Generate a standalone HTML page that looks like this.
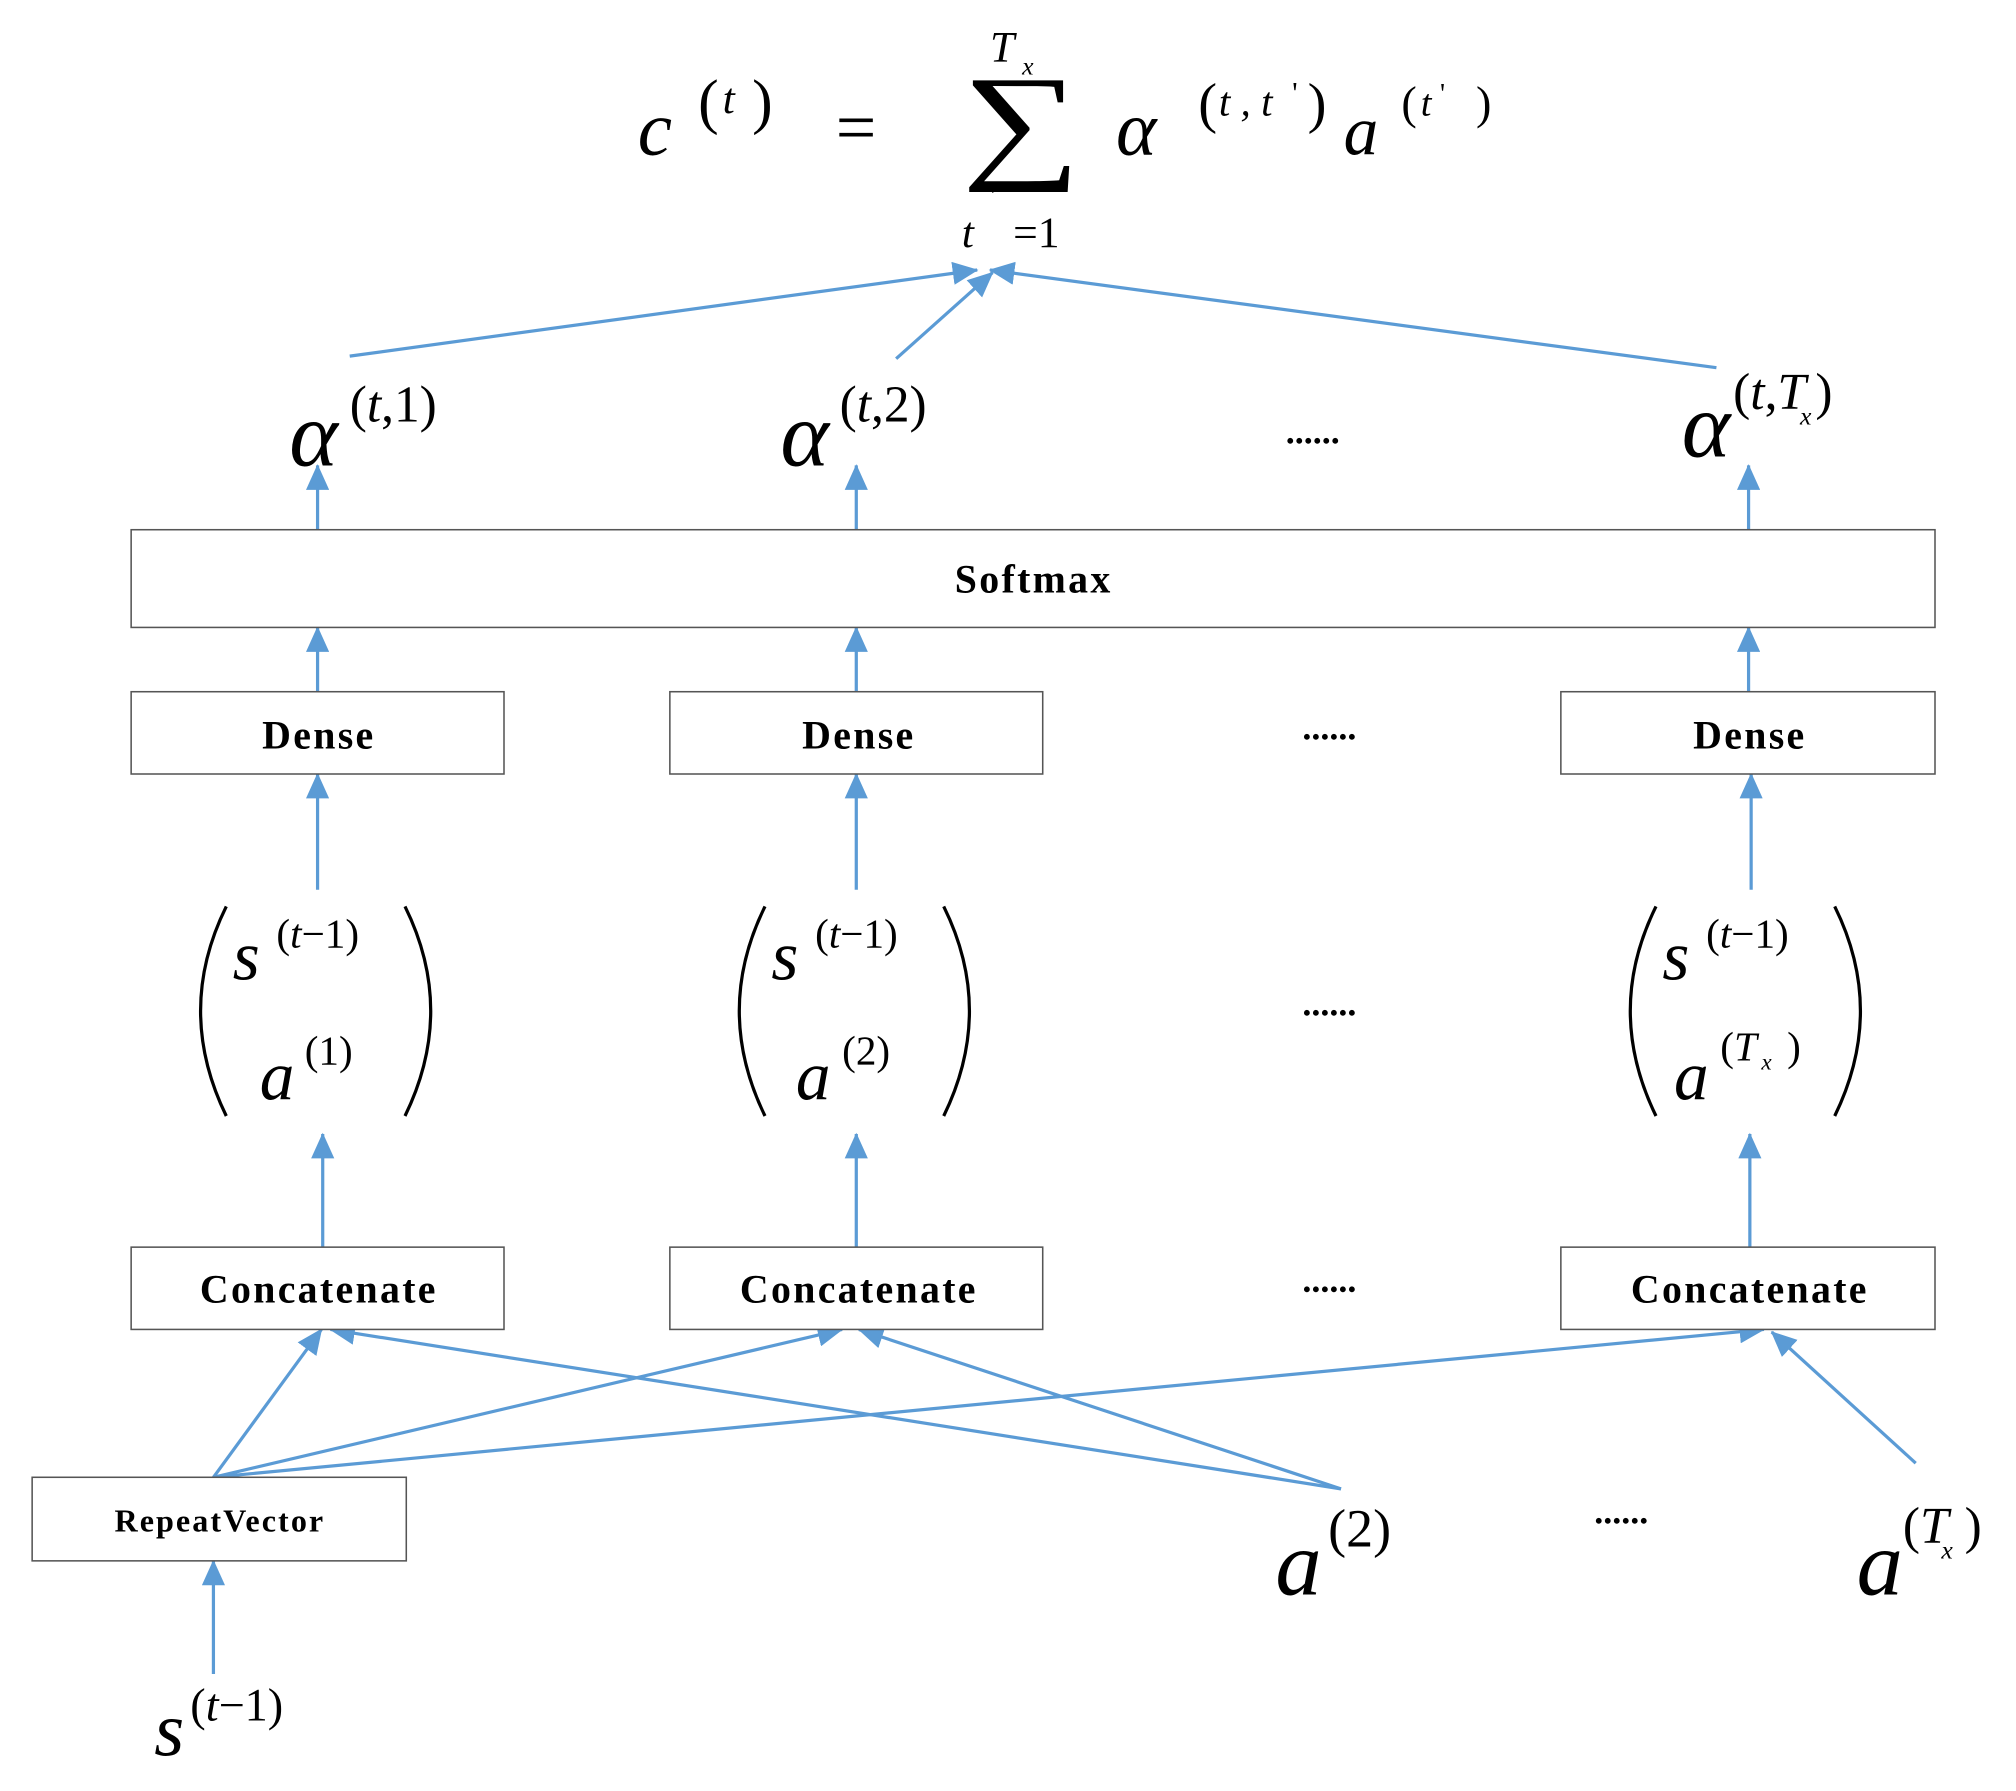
<!DOCTYPE html>
<html><head><meta charset="utf-8"><style>
html,body{margin:0;padding:0;background:#fff}
svg{display:block}
text{font-family:"Liberation Serif",serif}
.m{font-style:italic}
.b{font-weight:bold;font-size:31px;letter-spacing:1.8px;text-anchor:middle}
</style></head><body>
<svg width="2016" height="1791" viewBox="0 0 1568 1393" xmlns="http://www.w3.org/2000/svg">
<defs>
<marker id="ah2" markerWidth="20" markerHeight="18" refX="19" refY="9" orient="auto" markerUnits="userSpaceOnUse" viewBox="0 0 20 18"><path d="M0,0 L20,9 L0,18 z" fill="#5b9bd5"/></marker></defs>
<g fill="none" stroke="#5b9bd5" stroke-width="2.5" marker-end="url(#ah2)">
<line x1="272" y1="277" x2="760" y2="210"/>
<line x1="697" y1="279" x2="772" y2="212"/>
<line x1="1335" y1="286" x2="770" y2="210"/>
<line x1="247" y1="412" x2="247" y2="362"/>
<line x1="666" y1="412" x2="666" y2="362"/>
<line x1="1360" y1="412" x2="1360" y2="362"/>
<line x1="247" y1="538" x2="247" y2="488"/>
<line x1="666" y1="538" x2="666" y2="488"/>
<line x1="1360" y1="538" x2="1360" y2="488"/>
<line x1="247" y1="692" x2="247" y2="602"/>
<line x1="666" y1="692" x2="666" y2="602"/>
<line x1="1362" y1="692" x2="1362" y2="602"/>
<line x1="251" y1="970" x2="251" y2="882"/>
<line x1="666" y1="970" x2="666" y2="882"/>
<line x1="1361" y1="970" x2="1361" y2="882"/>
<line x1="166" y1="1302" x2="166" y2="1214"/>
<line x1="166" y1="1149" x2="250" y2="1034"/>
<line x1="166" y1="1149" x2="655" y2="1034"/>
<line x1="166" y1="1149" x2="1372" y2="1034"/>
<line x1="1043" y1="1158" x2="257" y2="1034"/>
<line x1="1043" y1="1158" x2="668" y2="1034"/>
<line x1="1490" y1="1138" x2="1378" y2="1036"/>
</g>
<g fill="#fff" stroke="#555" stroke-width="1.2">
<rect x="102" y="412" width="1403" height="76"/>
<rect x="102" y="538" width="290" height="64"/>
<rect x="521" y="538" width="290" height="64"/>
<rect x="1214" y="538" width="291" height="64"/>
<rect x="102" y="970" width="290" height="64"/>
<rect x="521" y="970" width="290" height="64"/>
<rect x="1214" y="970" width="291" height="64"/>
<rect x="25" y="1149" width="291" height="65"/>
</g>
<text class="b" x="804" y="461">Softmax</text>
<text class="b" x="248" y="582">Dense</text>
<text class="b" x="668" y="582">Dense</text>
<text class="b" x="1361" y="582">Dense</text>
<text class="b" x="248" y="1013">Concatenate</text>
<text class="b" x="668" y="1013">Concatenate</text>
<text class="b" x="1361" y="1013">Concatenate</text>
<text class="b" x="171" y="1191" style="font-size:25px;letter-spacing:1.6px">RepeatVector</text>
<g font-weight="bold" font-size="28">
<text x="1000" y="345">......</text>
<text x="1013" y="575">......</text>
<text x="1013" y="790">......</text>
<text x="1013" y="1005">......</text>
<text x="1240" y="1185">......</text>
</g>
<!-- formula -->
<text class="m" x="496" y="120" font-size="60">c</text>
<text x="543" y="95" font-size="48">(</text><text class="m" x="562" y="88" font-size="34">t</text><text x="585" y="95" font-size="48">)</text>
<text x="650" y="118" font-size="56">=</text>
<text font-size="100" transform="translate(748,128) scale(1.3,1)">∑</text>
<text class="m" x="770" y="48" font-size="34">T</text><text class="m" x="795" y="58" font-size="20">x</text>
<text class="m" x="748" y="192" font-size="34">t</text><text x="770" y="160" font-size="24">'</text><text x="788" y="192" font-size="34">=1</text>
<text class="m" x="868" y="120" font-size="60">α</text>
<text x="932" y="95" font-size="44">(</text><text class="m" x="948" y="90" font-size="32">t , t</text><text x="1005" y="80" font-size="24">'</text><text x="1017" y="95" font-size="44">)</text>
<text class="m" x="1045" y="120" font-size="54">a</text>
<text x="1090" y="92" font-size="36">(</text><text class="m" x="1105" y="90" font-size="30">t</text><text x="1120" y="80" font-size="22">'</text><text x="1148" y="92" font-size="36">)</text>
<!-- alphas -->
<g font-size="72"><text class="m" x="225" y="362">α</text><text class="m" x="607" y="362">α</text><text class="m" x="1308" y="355">α</text></g>
<g font-size="40"><text x="272" y="328">(<tspan class="m">t</tspan>,1)</text><text x="653" y="328">(<tspan class="m">t</tspan>,2)</text><text x="1348" y="318">(<tspan class="m">t</tspan>,<tspan class="m">T</tspan></text><text class="m" x="1400" y="330" font-size="20">x</text><text x="1412" y="318">)</text></g>
<!-- matrices -->
<g fill="none" stroke="#000" stroke-width="2.5">
<path d="M176,705 Q136,786 176,868"/><path d="M315,705 Q355,786 315,868"/>
<path d="M595,705 Q555,786 595,868"/><path d="M734,705 Q774,786 734,868"/>
<path d="M1288,705 Q1248,786 1288,868"/><path d="M1427,705 Q1467,786 1427,868"/>
</g>
<g font-size="54" class="m"><text x="181" y="762">s</text><text x="600" y="762">s</text><text x="1293" y="762">s</text>
<text x="202" y="855">a</text><text x="619" y="855">a</text><text x="1302" y="855">a</text></g>
<g font-size="32"><text x="215" y="737">(<tspan class="m">t</tspan>−1)</text><text x="634" y="737">(<tspan class="m">t</tspan>−1)</text><text x="1327" y="737">(<tspan class="m">t</tspan>−1)</text>
<text x="237" y="828">(1)</text><text x="655" y="828">(2)</text><text x="1338" y="825">(<tspan class="m">T</tspan></text><text class="m" x="1370" y="832" font-size="18">x</text><text x="1390" y="825">)</text></g>
<!-- bottom -->
<text class="m" x="992" y="1240" font-size="72">a</text><text x="1033" y="1203" font-size="42">(2)</text>
<text class="m" x="1444" y="1240" font-size="72">a</text><text x="1480" y="1200" font-size="40">(<tspan class="m">T</tspan></text><text class="m" x="1510" y="1212" font-size="20">x</text><text x="1528" y="1200" font-size="40">)</text>
<text class="m" x="120" y="1365" font-size="60">s</text><text x="148" y="1338" font-size="36">(<tspan class="m">t</tspan>−1)</text>
</svg>
</body></html>
